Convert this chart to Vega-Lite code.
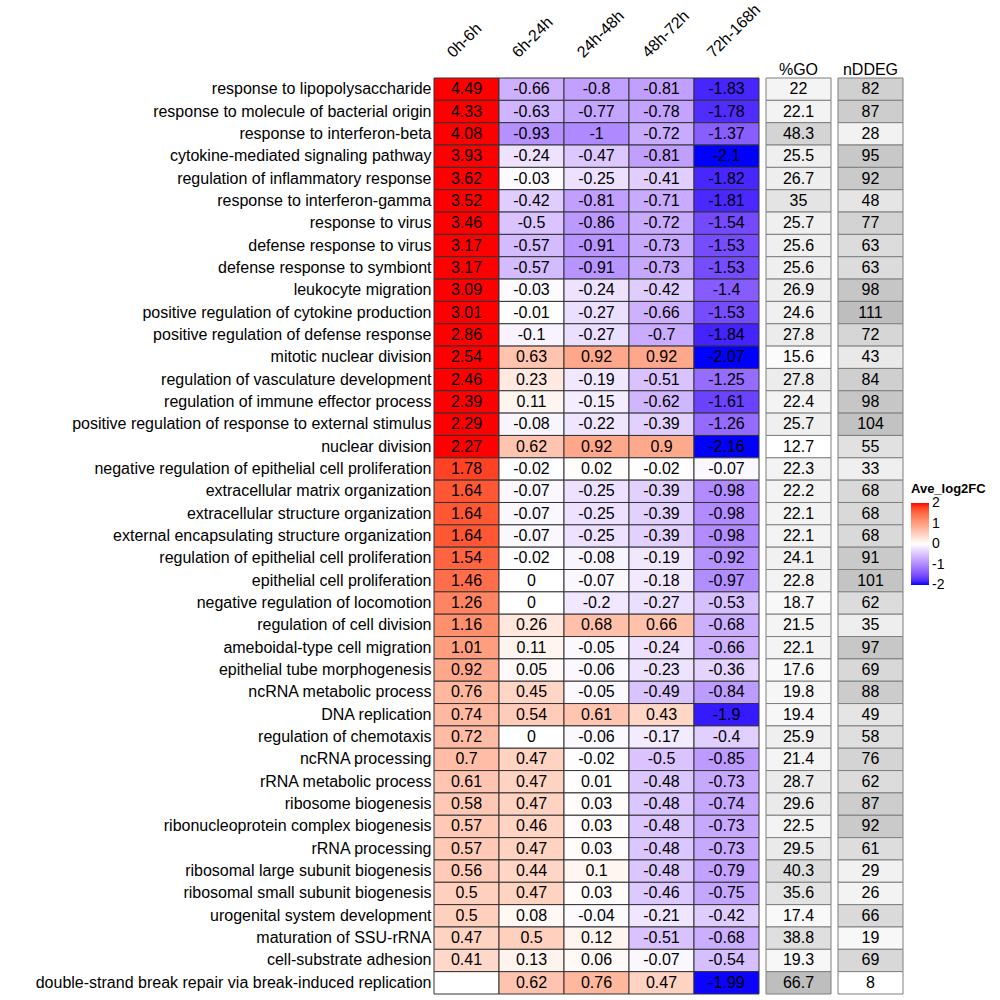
{
  "$schema": "https://vega.github.io/schema/vega-lite/v6.json",
  "background": "white",
  "padding": {"left": 35, "top": 0, "right": 5, "bottom": 5},
  "bounds": "flush",
  "spacing": 7,
  "config": {
    "view": {"stroke": null},
    "font": "Liberation Sans",
    "axis": {"labelFont": "Liberation Sans", "labelColor": "black", "labelFontSize": 16, "domain": false, "ticks": false, "tickSize": 0, "grid": false, "title": null},
    "legend": {"labelFontSize": 14, "labelFont": "Liberation Sans", "labelColor": "black"},
    "text": {"font": "Liberation Sans"}
  },
  "resolve": {"scale": {"fill": "independent"}, "legend": {"fill": "independent"}},
  "datasets": {
    "fc": [
      {"term": "response to lipopolysaccharide", "period": "0h-6h", "log2FC": 4.49},
      {"term": "response to lipopolysaccharide", "period": "6h-24h", "log2FC": -0.66},
      {"term": "response to lipopolysaccharide", "period": "24h-48h", "log2FC": -0.8},
      {"term": "response to lipopolysaccharide", "period": "48h-72h", "log2FC": -0.81},
      {"term": "response to lipopolysaccharide", "period": "72h-168h", "log2FC": -1.83},
      {"term": "response to molecule of bacterial origin", "period": "0h-6h", "log2FC": 4.33},
      {"term": "response to molecule of bacterial origin", "period": "6h-24h", "log2FC": -0.63},
      {"term": "response to molecule of bacterial origin", "period": "24h-48h", "log2FC": -0.77},
      {"term": "response to molecule of bacterial origin", "period": "48h-72h", "log2FC": -0.78},
      {"term": "response to molecule of bacterial origin", "period": "72h-168h", "log2FC": -1.78},
      {"term": "response to interferon-beta", "period": "0h-6h", "log2FC": 4.08},
      {"term": "response to interferon-beta", "period": "6h-24h", "log2FC": -0.93},
      {"term": "response to interferon-beta", "period": "24h-48h", "log2FC": -1},
      {"term": "response to interferon-beta", "period": "48h-72h", "log2FC": -0.72},
      {"term": "response to interferon-beta", "period": "72h-168h", "log2FC": -1.37},
      {"term": "cytokine-mediated signaling pathway", "period": "0h-6h", "log2FC": 3.93},
      {"term": "cytokine-mediated signaling pathway", "period": "6h-24h", "log2FC": -0.24},
      {"term": "cytokine-mediated signaling pathway", "period": "24h-48h", "log2FC": -0.47},
      {"term": "cytokine-mediated signaling pathway", "period": "48h-72h", "log2FC": -0.81},
      {"term": "cytokine-mediated signaling pathway", "period": "72h-168h", "log2FC": -2.1},
      {"term": "regulation of inflammatory response", "period": "0h-6h", "log2FC": 3.62},
      {"term": "regulation of inflammatory response", "period": "6h-24h", "log2FC": -0.03},
      {"term": "regulation of inflammatory response", "period": "24h-48h", "log2FC": -0.25},
      {"term": "regulation of inflammatory response", "period": "48h-72h", "log2FC": -0.41},
      {"term": "regulation of inflammatory response", "period": "72h-168h", "log2FC": -1.82},
      {"term": "response to interferon-gamma", "period": "0h-6h", "log2FC": 3.52},
      {"term": "response to interferon-gamma", "period": "6h-24h", "log2FC": -0.42},
      {"term": "response to interferon-gamma", "period": "24h-48h", "log2FC": -0.81},
      {"term": "response to interferon-gamma", "period": "48h-72h", "log2FC": -0.71},
      {"term": "response to interferon-gamma", "period": "72h-168h", "log2FC": -1.81},
      {"term": "response to virus", "period": "0h-6h", "log2FC": 3.46},
      {"term": "response to virus", "period": "6h-24h", "log2FC": -0.5},
      {"term": "response to virus", "period": "24h-48h", "log2FC": -0.86},
      {"term": "response to virus", "period": "48h-72h", "log2FC": -0.72},
      {"term": "response to virus", "period": "72h-168h", "log2FC": -1.54},
      {"term": "defense response to virus", "period": "0h-6h", "log2FC": 3.17},
      {"term": "defense response to virus", "period": "6h-24h", "log2FC": -0.57},
      {"term": "defense response to virus", "period": "24h-48h", "log2FC": -0.91},
      {"term": "defense response to virus", "period": "48h-72h", "log2FC": -0.73},
      {"term": "defense response to virus", "period": "72h-168h", "log2FC": -1.53},
      {"term": "defense response to symbiont", "period": "0h-6h", "log2FC": 3.17},
      {"term": "defense response to symbiont", "period": "6h-24h", "log2FC": -0.57},
      {"term": "defense response to symbiont", "period": "24h-48h", "log2FC": -0.91},
      {"term": "defense response to symbiont", "period": "48h-72h", "log2FC": -0.73},
      {"term": "defense response to symbiont", "period": "72h-168h", "log2FC": -1.53},
      {"term": "leukocyte migration", "period": "0h-6h", "log2FC": 3.09},
      {"term": "leukocyte migration", "period": "6h-24h", "log2FC": -0.03},
      {"term": "leukocyte migration", "period": "24h-48h", "log2FC": -0.24},
      {"term": "leukocyte migration", "period": "48h-72h", "log2FC": -0.42},
      {"term": "leukocyte migration", "period": "72h-168h", "log2FC": -1.4},
      {"term": "positive regulation of cytokine production", "period": "0h-6h", "log2FC": 3.01},
      {"term": "positive regulation of cytokine production", "period": "6h-24h", "log2FC": -0.01},
      {"term": "positive regulation of cytokine production", "period": "24h-48h", "log2FC": -0.27},
      {"term": "positive regulation of cytokine production", "period": "48h-72h", "log2FC": -0.66},
      {"term": "positive regulation of cytokine production", "period": "72h-168h", "log2FC": -1.53},
      {"term": "positive regulation of defense response", "period": "0h-6h", "log2FC": 2.86},
      {"term": "positive regulation of defense response", "period": "6h-24h", "log2FC": -0.1},
      {"term": "positive regulation of defense response", "period": "24h-48h", "log2FC": -0.27},
      {"term": "positive regulation of defense response", "period": "48h-72h", "log2FC": -0.7},
      {"term": "positive regulation of defense response", "period": "72h-168h", "log2FC": -1.84},
      {"term": "mitotic nuclear division", "period": "0h-6h", "log2FC": 2.54},
      {"term": "mitotic nuclear division", "period": "6h-24h", "log2FC": 0.63},
      {"term": "mitotic nuclear division", "period": "24h-48h", "log2FC": 0.92},
      {"term": "mitotic nuclear division", "period": "48h-72h", "log2FC": 0.92},
      {"term": "mitotic nuclear division", "period": "72h-168h", "log2FC": -2.07},
      {"term": "regulation of vasculature development", "period": "0h-6h", "log2FC": 2.46},
      {"term": "regulation of vasculature development", "period": "6h-24h", "log2FC": 0.23},
      {"term": "regulation of vasculature development", "period": "24h-48h", "log2FC": -0.19},
      {"term": "regulation of vasculature development", "period": "48h-72h", "log2FC": -0.51},
      {"term": "regulation of vasculature development", "period": "72h-168h", "log2FC": -1.25},
      {"term": "regulation of immune effector process", "period": "0h-6h", "log2FC": 2.39},
      {"term": "regulation of immune effector process", "period": "6h-24h", "log2FC": 0.11},
      {"term": "regulation of immune effector process", "period": "24h-48h", "log2FC": -0.15},
      {"term": "regulation of immune effector process", "period": "48h-72h", "log2FC": -0.62},
      {"term": "regulation of immune effector process", "period": "72h-168h", "log2FC": -1.61},
      {"term": "positive regulation of response to external stimulus", "period": "0h-6h", "log2FC": 2.29},
      {"term": "positive regulation of response to external stimulus", "period": "6h-24h", "log2FC": -0.08},
      {"term": "positive regulation of response to external stimulus", "period": "24h-48h", "log2FC": -0.22},
      {"term": "positive regulation of response to external stimulus", "period": "48h-72h", "log2FC": -0.39},
      {"term": "positive regulation of response to external stimulus", "period": "72h-168h", "log2FC": -1.26},
      {"term": "nuclear division", "period": "0h-6h", "log2FC": 2.27},
      {"term": "nuclear division", "period": "6h-24h", "log2FC": 0.62},
      {"term": "nuclear division", "period": "24h-48h", "log2FC": 0.92},
      {"term": "nuclear division", "period": "48h-72h", "log2FC": 0.9},
      {"term": "nuclear division", "period": "72h-168h", "log2FC": -2.16},
      {"term": "negative regulation of epithelial cell proliferation", "period": "0h-6h", "log2FC": 1.78},
      {"term": "negative regulation of epithelial cell proliferation", "period": "6h-24h", "log2FC": -0.02},
      {"term": "negative regulation of epithelial cell proliferation", "period": "24h-48h", "log2FC": 0.02},
      {"term": "negative regulation of epithelial cell proliferation", "period": "48h-72h", "log2FC": -0.02},
      {"term": "negative regulation of epithelial cell proliferation", "period": "72h-168h", "log2FC": -0.07},
      {"term": "extracellular matrix organization", "period": "0h-6h", "log2FC": 1.64},
      {"term": "extracellular matrix organization", "period": "6h-24h", "log2FC": -0.07},
      {"term": "extracellular matrix organization", "period": "24h-48h", "log2FC": -0.25},
      {"term": "extracellular matrix organization", "period": "48h-72h", "log2FC": -0.39},
      {"term": "extracellular matrix organization", "period": "72h-168h", "log2FC": -0.98},
      {"term": "extracellular structure organization", "period": "0h-6h", "log2FC": 1.64},
      {"term": "extracellular structure organization", "period": "6h-24h", "log2FC": -0.07},
      {"term": "extracellular structure organization", "period": "24h-48h", "log2FC": -0.25},
      {"term": "extracellular structure organization", "period": "48h-72h", "log2FC": -0.39},
      {"term": "extracellular structure organization", "period": "72h-168h", "log2FC": -0.98},
      {"term": "external encapsulating structure organization", "period": "0h-6h", "log2FC": 1.64},
      {"term": "external encapsulating structure organization", "period": "6h-24h", "log2FC": -0.07},
      {"term": "external encapsulating structure organization", "period": "24h-48h", "log2FC": -0.25},
      {"term": "external encapsulating structure organization", "period": "48h-72h", "log2FC": -0.39},
      {"term": "external encapsulating structure organization", "period": "72h-168h", "log2FC": -0.98},
      {"term": "regulation of epithelial cell proliferation", "period": "0h-6h", "log2FC": 1.54},
      {"term": "regulation of epithelial cell proliferation", "period": "6h-24h", "log2FC": -0.02},
      {"term": "regulation of epithelial cell proliferation", "period": "24h-48h", "log2FC": -0.08},
      {"term": "regulation of epithelial cell proliferation", "period": "48h-72h", "log2FC": -0.19},
      {"term": "regulation of epithelial cell proliferation", "period": "72h-168h", "log2FC": -0.92},
      {"term": "epithelial cell proliferation", "period": "0h-6h", "log2FC": 1.46},
      {"term": "epithelial cell proliferation", "period": "6h-24h", "log2FC": 0},
      {"term": "epithelial cell proliferation", "period": "24h-48h", "log2FC": -0.07},
      {"term": "epithelial cell proliferation", "period": "48h-72h", "log2FC": -0.18},
      {"term": "epithelial cell proliferation", "period": "72h-168h", "log2FC": -0.97},
      {"term": "negative regulation of locomotion", "period": "0h-6h", "log2FC": 1.26},
      {"term": "negative regulation of locomotion", "period": "6h-24h", "log2FC": 0},
      {"term": "negative regulation of locomotion", "period": "24h-48h", "log2FC": -0.2},
      {"term": "negative regulation of locomotion", "period": "48h-72h", "log2FC": -0.27},
      {"term": "negative regulation of locomotion", "period": "72h-168h", "log2FC": -0.53},
      {"term": "regulation of cell division", "period": "0h-6h", "log2FC": 1.16},
      {"term": "regulation of cell division", "period": "6h-24h", "log2FC": 0.26},
      {"term": "regulation of cell division", "period": "24h-48h", "log2FC": 0.68},
      {"term": "regulation of cell division", "period": "48h-72h", "log2FC": 0.66},
      {"term": "regulation of cell division", "period": "72h-168h", "log2FC": -0.68},
      {"term": "ameboidal-type cell migration", "period": "0h-6h", "log2FC": 1.01},
      {"term": "ameboidal-type cell migration", "period": "6h-24h", "log2FC": 0.11},
      {"term": "ameboidal-type cell migration", "period": "24h-48h", "log2FC": -0.05},
      {"term": "ameboidal-type cell migration", "period": "48h-72h", "log2FC": -0.24},
      {"term": "ameboidal-type cell migration", "period": "72h-168h", "log2FC": -0.66},
      {"term": "epithelial tube morphogenesis", "period": "0h-6h", "log2FC": 0.92},
      {"term": "epithelial tube morphogenesis", "period": "6h-24h", "log2FC": 0.05},
      {"term": "epithelial tube morphogenesis", "period": "24h-48h", "log2FC": -0.06},
      {"term": "epithelial tube morphogenesis", "period": "48h-72h", "log2FC": -0.23},
      {"term": "epithelial tube morphogenesis", "period": "72h-168h", "log2FC": -0.36},
      {"term": "ncRNA metabolic process", "period": "0h-6h", "log2FC": 0.76},
      {"term": "ncRNA metabolic process", "period": "6h-24h", "log2FC": 0.45},
      {"term": "ncRNA metabolic process", "period": "24h-48h", "log2FC": -0.05},
      {"term": "ncRNA metabolic process", "period": "48h-72h", "log2FC": -0.49},
      {"term": "ncRNA metabolic process", "period": "72h-168h", "log2FC": -0.84},
      {"term": "DNA replication", "period": "0h-6h", "log2FC": 0.74},
      {"term": "DNA replication", "period": "6h-24h", "log2FC": 0.54},
      {"term": "DNA replication", "period": "24h-48h", "log2FC": 0.61},
      {"term": "DNA replication", "period": "48h-72h", "log2FC": 0.43},
      {"term": "DNA replication", "period": "72h-168h", "log2FC": -1.9},
      {"term": "regulation of chemotaxis", "period": "0h-6h", "log2FC": 0.72},
      {"term": "regulation of chemotaxis", "period": "6h-24h", "log2FC": 0},
      {"term": "regulation of chemotaxis", "period": "24h-48h", "log2FC": -0.06},
      {"term": "regulation of chemotaxis", "period": "48h-72h", "log2FC": -0.17},
      {"term": "regulation of chemotaxis", "period": "72h-168h", "log2FC": -0.4},
      {"term": "ncRNA processing", "period": "0h-6h", "log2FC": 0.7},
      {"term": "ncRNA processing", "period": "6h-24h", "log2FC": 0.47},
      {"term": "ncRNA processing", "period": "24h-48h", "log2FC": -0.02},
      {"term": "ncRNA processing", "period": "48h-72h", "log2FC": -0.5},
      {"term": "ncRNA processing", "period": "72h-168h", "log2FC": -0.85},
      {"term": "rRNA metabolic process", "period": "0h-6h", "log2FC": 0.61},
      {"term": "rRNA metabolic process", "period": "6h-24h", "log2FC": 0.47},
      {"term": "rRNA metabolic process", "period": "24h-48h", "log2FC": 0.01},
      {"term": "rRNA metabolic process", "period": "48h-72h", "log2FC": -0.48},
      {"term": "rRNA metabolic process", "period": "72h-168h", "log2FC": -0.73},
      {"term": "ribosome biogenesis", "period": "0h-6h", "log2FC": 0.58},
      {"term": "ribosome biogenesis", "period": "6h-24h", "log2FC": 0.47},
      {"term": "ribosome biogenesis", "period": "24h-48h", "log2FC": 0.03},
      {"term": "ribosome biogenesis", "period": "48h-72h", "log2FC": -0.48},
      {"term": "ribosome biogenesis", "period": "72h-168h", "log2FC": -0.74},
      {"term": "ribonucleoprotein complex biogenesis", "period": "0h-6h", "log2FC": 0.57},
      {"term": "ribonucleoprotein complex biogenesis", "period": "6h-24h", "log2FC": 0.46},
      {"term": "ribonucleoprotein complex biogenesis", "period": "24h-48h", "log2FC": 0.03},
      {"term": "ribonucleoprotein complex biogenesis", "period": "48h-72h", "log2FC": -0.48},
      {"term": "ribonucleoprotein complex biogenesis", "period": "72h-168h", "log2FC": -0.73},
      {"term": "rRNA processing", "period": "0h-6h", "log2FC": 0.57},
      {"term": "rRNA processing", "period": "6h-24h", "log2FC": 0.47},
      {"term": "rRNA processing", "period": "24h-48h", "log2FC": 0.03},
      {"term": "rRNA processing", "period": "48h-72h", "log2FC": -0.48},
      {"term": "rRNA processing", "period": "72h-168h", "log2FC": -0.73},
      {"term": "ribosomal large subunit biogenesis", "period": "0h-6h", "log2FC": 0.56},
      {"term": "ribosomal large subunit biogenesis", "period": "6h-24h", "log2FC": 0.44},
      {"term": "ribosomal large subunit biogenesis", "period": "24h-48h", "log2FC": 0.1},
      {"term": "ribosomal large subunit biogenesis", "period": "48h-72h", "log2FC": -0.48},
      {"term": "ribosomal large subunit biogenesis", "period": "72h-168h", "log2FC": -0.79},
      {"term": "ribosomal small subunit biogenesis", "period": "0h-6h", "log2FC": 0.5},
      {"term": "ribosomal small subunit biogenesis", "period": "6h-24h", "log2FC": 0.47},
      {"term": "ribosomal small subunit biogenesis", "period": "24h-48h", "log2FC": 0.03},
      {"term": "ribosomal small subunit biogenesis", "period": "48h-72h", "log2FC": -0.46},
      {"term": "ribosomal small subunit biogenesis", "period": "72h-168h", "log2FC": -0.75},
      {"term": "urogenital system development", "period": "0h-6h", "log2FC": 0.5},
      {"term": "urogenital system development", "period": "6h-24h", "log2FC": 0.08},
      {"term": "urogenital system development", "period": "24h-48h", "log2FC": -0.04},
      {"term": "urogenital system development", "period": "48h-72h", "log2FC": -0.21},
      {"term": "urogenital system development", "period": "72h-168h", "log2FC": -0.42},
      {"term": "maturation of SSU-rRNA", "period": "0h-6h", "log2FC": 0.47},
      {"term": "maturation of SSU-rRNA", "period": "6h-24h", "log2FC": 0.5},
      {"term": "maturation of SSU-rRNA", "period": "24h-48h", "log2FC": 0.12},
      {"term": "maturation of SSU-rRNA", "period": "48h-72h", "log2FC": -0.51},
      {"term": "maturation of SSU-rRNA", "period": "72h-168h", "log2FC": -0.68},
      {"term": "cell-substrate adhesion", "period": "0h-6h", "log2FC": 0.41},
      {"term": "cell-substrate adhesion", "period": "6h-24h", "log2FC": 0.13},
      {"term": "cell-substrate adhesion", "period": "24h-48h", "log2FC": 0.06},
      {"term": "cell-substrate adhesion", "period": "48h-72h", "log2FC": -0.07},
      {"term": "cell-substrate adhesion", "period": "72h-168h", "log2FC": -0.54},
      {"term": "double-strand break repair via break-induced replication", "period": "0h-6h", "log2FC": null},
      {"term": "double-strand break repair via break-induced replication", "period": "6h-24h", "log2FC": 0.62},
      {"term": "double-strand break repair via break-induced replication", "period": "24h-48h", "log2FC": 0.76},
      {"term": "double-strand break repair via break-induced replication", "period": "48h-72h", "log2FC": 0.47},
      {"term": "double-strand break repair via break-induced replication", "period": "72h-168h", "log2FC": -1.99}
    ],
    "go": [
      {"term": "response to lipopolysaccharide", "pctGO": 22, "nDDEG": 82},
      {"term": "response to molecule of bacterial origin", "pctGO": 22.1, "nDDEG": 87},
      {"term": "response to interferon-beta", "pctGO": 48.3, "nDDEG": 28},
      {"term": "cytokine-mediated signaling pathway", "pctGO": 25.5, "nDDEG": 95},
      {"term": "regulation of inflammatory response", "pctGO": 26.7, "nDDEG": 92},
      {"term": "response to interferon-gamma", "pctGO": 35, "nDDEG": 48},
      {"term": "response to virus", "pctGO": 25.7, "nDDEG": 77},
      {"term": "defense response to virus", "pctGO": 25.6, "nDDEG": 63},
      {"term": "defense response to symbiont", "pctGO": 25.6, "nDDEG": 63},
      {"term": "leukocyte migration", "pctGO": 26.9, "nDDEG": 98},
      {"term": "positive regulation of cytokine production", "pctGO": 24.6, "nDDEG": 111},
      {"term": "positive regulation of defense response", "pctGO": 27.8, "nDDEG": 72},
      {"term": "mitotic nuclear division", "pctGO": 15.6, "nDDEG": 43},
      {"term": "regulation of vasculature development", "pctGO": 27.8, "nDDEG": 84},
      {"term": "regulation of immune effector process", "pctGO": 22.4, "nDDEG": 98},
      {"term": "positive regulation of response to external stimulus", "pctGO": 25.7, "nDDEG": 104},
      {"term": "nuclear division", "pctGO": 12.7, "nDDEG": 55},
      {"term": "negative regulation of epithelial cell proliferation", "pctGO": 22.3, "nDDEG": 33},
      {"term": "extracellular matrix organization", "pctGO": 22.2, "nDDEG": 68},
      {"term": "extracellular structure organization", "pctGO": 22.1, "nDDEG": 68},
      {"term": "external encapsulating structure organization", "pctGO": 22.1, "nDDEG": 68},
      {"term": "regulation of epithelial cell proliferation", "pctGO": 24.1, "nDDEG": 91},
      {"term": "epithelial cell proliferation", "pctGO": 22.8, "nDDEG": 101},
      {"term": "negative regulation of locomotion", "pctGO": 18.7, "nDDEG": 62},
      {"term": "regulation of cell division", "pctGO": 21.5, "nDDEG": 35},
      {"term": "ameboidal-type cell migration", "pctGO": 22.1, "nDDEG": 97},
      {"term": "epithelial tube morphogenesis", "pctGO": 17.6, "nDDEG": 69},
      {"term": "ncRNA metabolic process", "pctGO": 19.8, "nDDEG": 88},
      {"term": "DNA replication", "pctGO": 19.4, "nDDEG": 49},
      {"term": "regulation of chemotaxis", "pctGO": 25.9, "nDDEG": 58},
      {"term": "ncRNA processing", "pctGO": 21.4, "nDDEG": 76},
      {"term": "rRNA metabolic process", "pctGO": 28.7, "nDDEG": 62},
      {"term": "ribosome biogenesis", "pctGO": 29.6, "nDDEG": 87},
      {"term": "ribonucleoprotein complex biogenesis", "pctGO": 22.5, "nDDEG": 92},
      {"term": "rRNA processing", "pctGO": 29.5, "nDDEG": 61},
      {"term": "ribosomal large subunit biogenesis", "pctGO": 40.3, "nDDEG": 29},
      {"term": "ribosomal small subunit biogenesis", "pctGO": 35.6, "nDDEG": 26},
      {"term": "urogenital system development", "pctGO": 17.4, "nDDEG": 66},
      {"term": "maturation of SSU-rRNA", "pctGO": 38.8, "nDDEG": 19},
      {"term": "cell-substrate adhesion", "pctGO": 19.3, "nDDEG": 69},
      {"term": "double-strand break repair via break-induced replication", "pctGO": 66.7, "nDDEG": 8}
    ]
  },
  "hconcat": [
    {
      "width": 325,
      "height": 916,
      "data": {"name": "fc"},
      "encoding": {
        "y": {"field": "term", "type": "nominal", "sort": null, "scale": {"paddingInner": 0, "paddingOuter": 0}, "axis": {"labelPadding": 3, "labelLimit": 0}},
        "x": {"field": "period", "type": "nominal", "sort": null, "scale": {"paddingInner": 0, "paddingOuter": 0}, "axis": {"orient": "top", "labelAngle": -45, "labelAlign": "left", "labelBaseline": "alphabetic", "labelPadding": 20, "labelOffset": -13}}
      },
      "layer": [
        {
          "mark": {"type": "rect", "stroke": "#333333", "strokeWidth": 1, "invalid": "show"},
          "encoding": {
            "fill": {
              "condition": {"test": "!isValid(datum.log2FC)", "value": "#FFFFFF"},
              "field": "log2FC", "type": "quantitative",
              "scale": {"domain": [-2, 0, 2], "range": ["#0000FF", "#FFFFFF", "#FF0000"], "interpolate": "lab", "clamp": true},
              "legend": {
                "title": "Ave_log2FC", "orient": "none", "direction": "vertical", "legendX": 477, "legendY": 405,
                "titleFontSize": 13, "titleFontWeight": "bold", "titleColor": "black", "titleFont": "Liberation Sans", "titlePadding": 7,
                "labelFontSize": 14, "labelColor": "black", "labelFont": "Liberation Sans",
                "gradientLength": 82, "gradientThickness": 18, "values": [-2, -1, 0, 1, 2], "labelOffset": 3, "labelOverlap": false,
                "labelExpr": "'' + datum.value",
                "encode": {"labels": {"update": {"baseline": {"value": "middle"}, "fontSize": {"value": 14}}}}
              }
            }
          }
        },
        {
          "transform": [{"filter": "isValid(datum.log2FC)"}],
          "mark": {"type": "text", "fontSize": 16, "color": "black", "font": "Liberation Sans"},
          "encoding": {"text": {"field": "log2FC", "type": "nominal"}}
        }
      ]
    },
    {
      "width": 65,
      "height": 916,
      "data": {"name": "go"},
      "encoding": {
        "y": {"field": "term", "type": "nominal", "sort": null, "scale": {"paddingInner": 0, "paddingOuter": 0}, "axis": null},
        "x": {"datum": "%GO", "type": "nominal", "scale": {"paddingInner": 0, "paddingOuter": 0}, "axis": {"orient": "top", "labelAngle": 0, "labelAlign": "center", "labelBaseline": "alphabetic", "labelPadding": 4}}
      },
      "layer": [
        {
          "mark": {"type": "rect", "stroke": "#7f7f7f", "strokeWidth": 1},
          "encoding": {"fill": {"field": "pctGO", "type": "quantitative", "scale": {"domain": [12.7, 66.7], "range": ["#FFFFFF", "#BEBEBE"]}, "legend": null}}
        },
        {
          "mark": {"type": "text", "fontSize": 16, "color": "black", "font": "Liberation Sans"},
          "encoding": {"text": {"field": "pctGO", "type": "nominal"}}
        }
      ]
    },
    {
      "width": 65,
      "height": 916,
      "data": {"name": "go"},
      "encoding": {
        "y": {"field": "term", "type": "nominal", "sort": null, "scale": {"paddingInner": 0, "paddingOuter": 0}, "axis": null},
        "x": {"datum": "nDDEG", "type": "nominal", "scale": {"paddingInner": 0, "paddingOuter": 0}, "axis": {"orient": "top", "labelAngle": 0, "labelAlign": "center", "labelBaseline": "alphabetic", "labelPadding": 4}}
      },
      "layer": [
        {
          "mark": {"type": "rect", "stroke": "#7f7f7f", "strokeWidth": 1},
          "encoding": {"fill": {"field": "nDDEG", "type": "quantitative", "scale": {"domain": [8, 111], "range": ["#FFFFFF", "#BEBEBE"]}, "legend": null}}
        },
        {
          "mark": {"type": "text", "fontSize": 16, "color": "black", "font": "Liberation Sans"},
          "encoding": {"text": {"field": "nDDEG", "type": "nominal"}}
        }
      ]
    }
  ]
}
